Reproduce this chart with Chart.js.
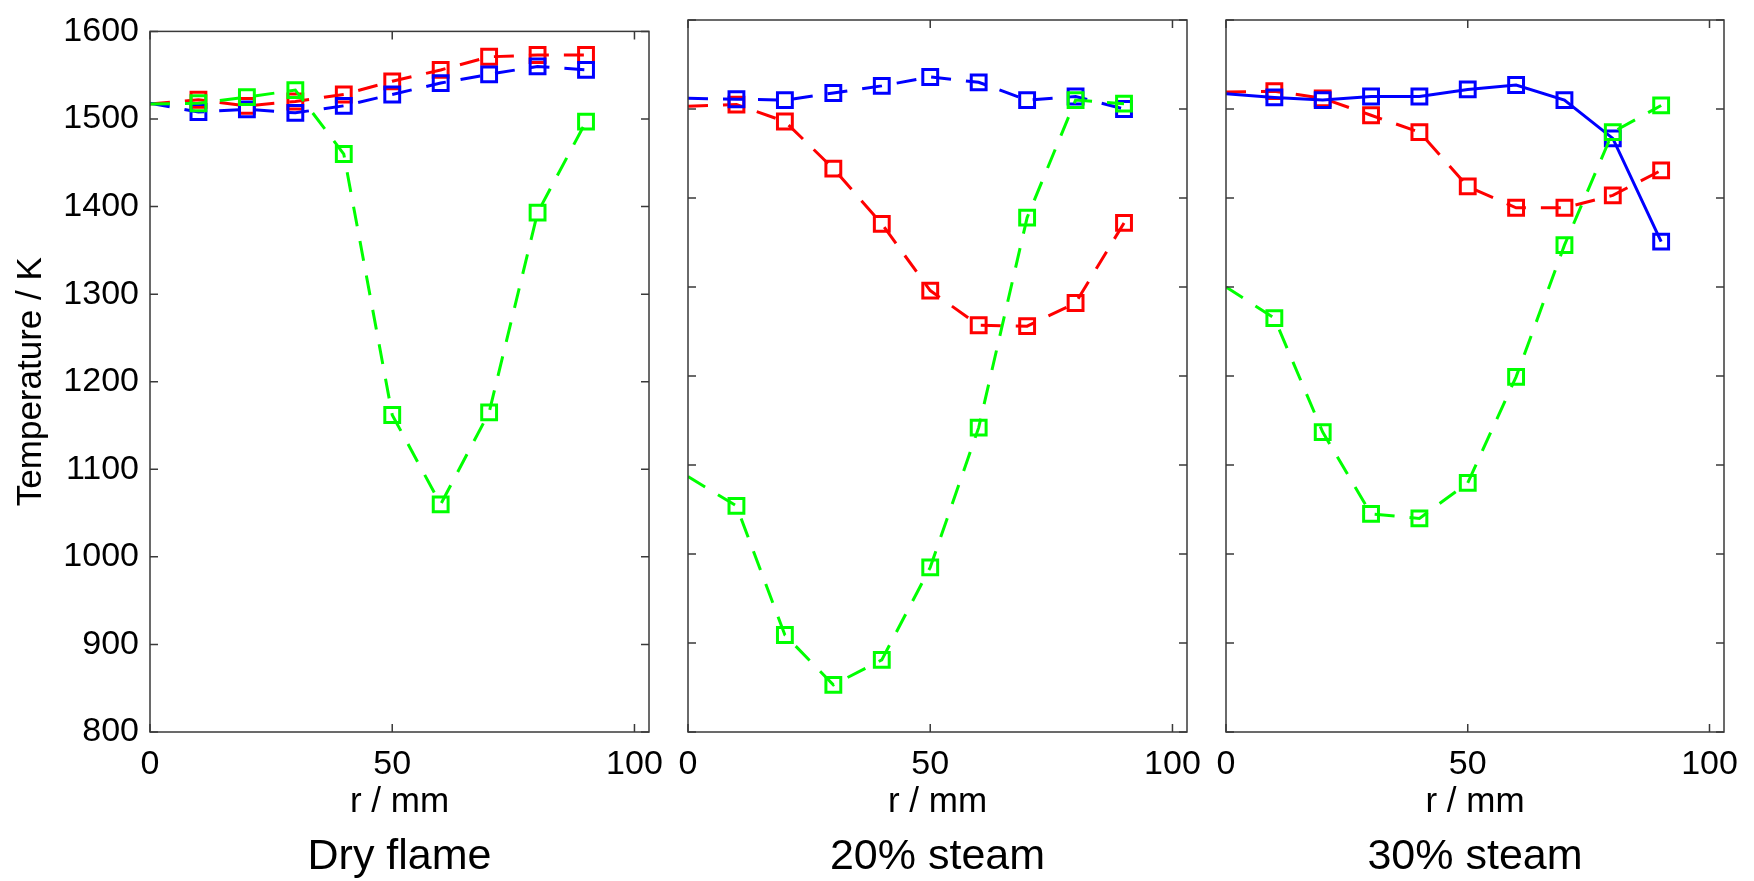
<!DOCTYPE html>
<html>
<head>
<meta charset="utf-8">
<script src="https://cdn.jsdelivr.net/npm/chart.js@4.4.0/dist/chart.umd.min.js"></script>
<style>
  body { margin: 0; background: #fff; }
  #wrap { position: relative; width: 1754px; height: 881px; }
  canvas { position: absolute; left: 0; top: 0; }
</style>
</head>
<body>
<div id="wrap">
  <canvas id="dry" width="1754" height="881"></canvas>
  <canvas id="steam20" width="1754" height="881"></canvas>
  <canvas id="steam30" width="1754" height="881"></canvas>
</div>
<script>
// radial position r / mm
const r = [0, 10, 20, 30, 40, 50, 60, 70, 80, 90];

// dry flame
const dryRed = [1517, 1522, 1515, 1520, 1528, 1543, 1556, 1571, 1573, 1573];
const dryBlue = [1518, 1508, 1511, 1507, 1515, 1528, 1541, 1551, 1560, 1556];
const dryGreen = [1517, 1518, 1525, 1533, 1460, 1162, 1060, 1165, 1393, 1497];

// 20% steam
const s20Red = [1503, 1505, 1486, 1433, 1371, 1296, 1257, 1256, 1282, 1372];
const s20Blue = [1512, 1511, 1510, 1518, 1526, 1536, 1530, 1510, 1514, 1500];
const s20Green = [1087, 1054, 909, 853, 881, 985, 1142, 1378, 1510, 1506];

// 30% steam
const s30Red = [1519, 1520, 1512, 1493, 1474, 1413, 1389, 1389, 1403, 1431];
const s30Blue = [1517, 1513, 1510, 1514, 1514, 1522, 1527, 1510, 1467, 1351];
const s30Green = [1300, 1265, 1137, 1045, 1040, 1080, 1199, 1347, 1474, 1504];

const xTicks = [0, 50, 100];
const yMin = 800;
const yMax = 1600;

Chart.defaults.font.family = "'Liberation Sans', Arial, sans-serif";
Chart.defaults.color = "#000";

// box round the plot with inward tick marks, like matlab
const frame = {
  id: "frame",
  afterDatasetsDraw(chart) {
    const { ctx, chartArea: a, scales } = chart;
    ctx.save();
    ctx.strokeStyle = "#3a3a3a";
    ctx.lineWidth = 1.5;
    ctx.beginPath();
    scales.x.ticks.forEach(function (t) {
      const px = scales.x.getPixelForValue(t.value);
      ctx.moveTo(px, a.bottom);
      ctx.lineTo(px, a.bottom - 8);
      ctx.moveTo(px, a.top);
      ctx.lineTo(px, a.top + 8);
    });
    scales.y.ticks.forEach(function (t) {
      const py = scales.y.getPixelForValue(t.value);
      ctx.moveTo(a.left, py);
      ctx.lineTo(a.left + 8, py);
      ctx.moveTo(a.right, py);
      ctx.lineTo(a.right - 8, py);
    });
    ctx.stroke();
    ctx.strokeRect(a.left, a.top, a.right - a.left, a.bottom - a.top);
    ctx.restore();
  },
};

function series(label, vals, color, dashed) {
  return {
    label: label,
    data: r.map(function (x, i) {
      return { x: x, y: vals[i] };
    }),
    borderColor: color,
    borderWidth: 3,
    borderDash: dashed ? [20, 15] : [],
    fill: false,
    tension: 0,
    pointStyle: "rect",
    pointRadius: function (c) {
      return c.dataIndex === 0 ? 0 : 10.5;
    },
    pointBorderWidth: 3,
    pointBorderColor: color,
    pointBackgroundColor: "rgba(0,0,0,0)",
  };
}

function makePanel(id, title, left, right, first, green, blue, red, blueDashed) {
  new Chart(document.getElementById(id), {
    type: "line",
    data: {
      datasets: [
        series("green", green, "#00ff00", true),
        series("blue", blue, "#0000ff", blueDashed),
        series("red", red, "#ff0000", true),
      ],
    },
    options: {
      responsive: false,
      animation: false,
      devicePixelRatio: 1,
      events: [],
      layout: {
        padding: { left: first ? 0 : left, right: 1754 - right, top: 20, bottom: 0 },
      },
      plugins: {
        legend: { display: false },
        tooltip: { enabled: false },
        title: {
          display: true,
          text: title,
          position: "bottom",
          fullSize: false,
          font: { size: 43, weight: "normal", lineHeight: 1 },
          color: "#000",
          padding: { top: 13, bottom: 2 },
        },
      },
      scales: {
        x: {
          type: "linear",
          min: 0,
          max: 103,
          grid: { display: false, drawTicks: false },
          border: { display: false },
          afterBuildTicks: function (s) {
            s.ticks = xTicks.map(function (v) {
              return { value: v };
            });
          },
          ticks: { font: { size: 34 }, padding: 12, color: "#000" },
          title: { display: true, text: "r / mm", font: { size: 35 }, padding: 0, color: "#000" },
          afterFit: function (s) {
            s.height = 91;
          },
        },
        y: {
          min: yMin,
          max: yMax,
          grid: { display: false, drawTicks: false },
          border: { display: false },
          ticks: {
            stepSize: 100,
            display: first,
            font: { size: 34 },
            padding: 11,
            color: "#000",
            callback: function (v) {
              return String(v);
            },
          },
          title: {
            display: first,
            text: "Temperature / K",
            font: { size: 35 },
            padding: { top: 10 },
            color: "#000",
          },
          afterFit: function (s) {
            s.width = first ? left : 0;
          },
        },
      },
    },
    plugins: [frame],
  });
}

makePanel("dry", "Dry flame", 150, 649, true, dryGreen, dryBlue, dryRed, true);
makePanel("steam20", "20% steam", 688, 1187, false, s20Green, s20Blue, s20Red, true);
makePanel("steam30", "30% steam", 1226, 1724, false, s30Green, s30Blue, s30Red, false);
</script>
</body>
</html>
